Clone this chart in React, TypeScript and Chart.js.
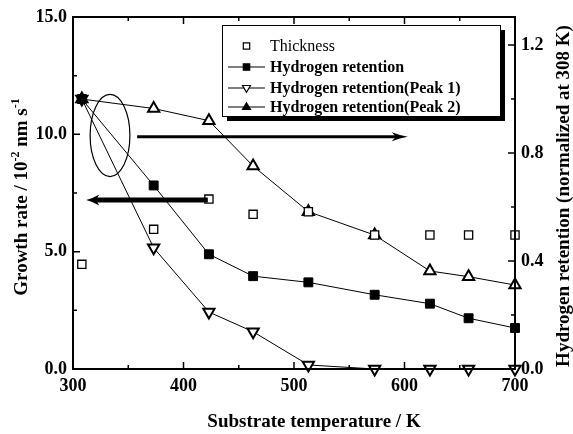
import { useEffect, useRef } from "react";
import { Chart, registerables } from "chart.js";
Chart.register(...registerables);

// ---- data ----
const temperatures = [308, 373, 423, 463, 513, 573, 623, 658, 700];
const thickness = [4.46, 5.95, 7.24, 6.59, 6.7, 5.71, 5.71, 5.71, 5.71];
const hRetention = [1.0, 0.68, 0.425, 0.344, 0.321, 0.275, 0.242, 0.188, 0.152];
const hPeak1 = [1.0, 0.449, 0.211, 0.138, 0.015, 0, 0, 0, 0];
const hPeak2 = [1.0, 0.965, 0.92, 0.752, 0.583, 0.496, 0.363, 0.342, 0.311];
const seriesLabels = [
  "Thickness",
  "Hydrogen retention",
  "Hydrogen retention(Peak 1)",
  "Hydrogen retention(Peak 2)",
];
const xTicks = [300, 350, 400, 450, 500, 550, 600, 650, 700];
const xMajor = [300, 400, 500, 600, 700];
const leftTicks = [0, 2.5, 5, 7.5, 10, 12.5, 15];
const leftMajor = [0, 5, 10, 15];
const rightTicks = [0, 0.2, 0.4, 0.6, 0.8, 1.0, 1.2];
const rightMajor = [0, 0.4, 0.8, 1.2];
const xTitle = "Substrate temperature / K";
const rightTitle = "Hydrogen retention (normalized at 308 K)";
// annotations (data units: x in K, y on left axis)
const leftArrow = [422, 7.2, 312, 7.2];
const rightArrow = [358, 9.9, 603, 9.9];
const ellipseCenter = [333.5, 9.95];
const ellipseRadii = [18, 1.75];

const FONT = "'Liberation Serif', 'Times New Roman', serif";

function marker(ctx: CanvasRenderingContext2D, style: string, x: number, y: number, r: number, fill: string) {
  ctx.save();
  ctx.beginPath();
  if (style === "rect") {
    const s = r;
    ctx.rect(x - s, y - s, 2 * s, 2 * s);
  } else {
    const dir = style === "down" ? -1 : 1;
    ctx.moveTo(x, y - dir * r);
    ctx.lineTo(x + r * 0.95, y + dir * r * 0.6);
    ctx.lineTo(x - r * 0.95, y + dir * r * 0.6);
    ctx.closePath();
  }
  ctx.fillStyle = fill;
  ctx.fill();
  ctx.lineWidth = 1.2;
  ctx.strokeStyle = "#000";
  ctx.stroke();
  ctx.restore();
}

function arrow(ctx: CanvasRenderingContext2D, x0: number, y0: number, x1: number, y1: number, w: number, hl: number, hw: number) {
  const dir = Math.sign(x1 - x0);
  ctx.save();
  ctx.strokeStyle = "#000";
  ctx.fillStyle = "#000";
  ctx.lineWidth = w;
  ctx.beginPath();
  ctx.moveTo(x0, y0);
  ctx.lineTo(x1 - dir * hl * 0.6, y1);
  ctx.stroke();
  ctx.beginPath();
  ctx.moveTo(x1, y1);
  ctx.quadraticCurveTo(x1 - dir * hl * 0.5, y1 - hw * 0.3, x1 - dir * hl, y1 - hw);
  ctx.lineTo(x1 - dir * hl * 0.75, y1);
  ctx.lineTo(x1 - dir * hl, y1 + hw);
  ctx.quadraticCurveTo(x1 - dir * hl * 0.5, y1 + hw * 0.3, x1, y1);
  ctx.fill();
  ctx.restore();
}

const decorPlugin = {
  id: "decor",
  afterDatasetsDraw(chart: any) {
    const ctx: CanvasRenderingContext2D = chart.ctx;
    const a = chart.chartArea;
    const sx = chart.scales.x;
    const sl = chart.scales.yL;
    const sr = chart.scales.yR;

    // annotations
    ctx.save();
    ctx.strokeStyle = "#000";
    ctx.lineWidth = 1.2;
    const cx = sx.getPixelForValue(ellipseCenter[0]);
    const cy = sl.getPixelForValue(ellipseCenter[1]);
    const rx = sx.getPixelForValue(ellipseCenter[0] + ellipseRadii[0]) - cx;
    const ry = cy - sl.getPixelForValue(ellipseCenter[1] + ellipseRadii[1]);
    ctx.beginPath();
    ctx.ellipse(cx, cy, rx, ry, 0, 0, Math.PI * 2);
    ctx.stroke();
    ctx.restore();
    arrow(ctx, sx.getPixelForValue(leftArrow[0]), sl.getPixelForValue(leftArrow[1]),
      sx.getPixelForValue(leftArrow[2]), sl.getPixelForValue(leftArrow[3]), 5, 13, 5.5);
    arrow(ctx, sx.getPixelForValue(rightArrow[0]), sl.getPixelForValue(rightArrow[1]),
      sx.getPixelForValue(rightArrow[2]), sl.getPixelForValue(rightArrow[3]), 3, 16, 4.5);

    // frame
    ctx.save();
    ctx.strokeStyle = "#000";
    ctx.lineWidth = 2;
    ctx.strokeRect(a.left, a.top, a.right - a.left, a.bottom - a.top);
    ctx.lineWidth = 1.5;
    ctx.beginPath();
    xTicks.forEach((v) => {
      const p = sx.getPixelForValue(v);
      const len = xMajor.includes(v) ? 7 : 4;
      ctx.moveTo(p, a.bottom);
      ctx.lineTo(p, a.bottom - len);
      ctx.moveTo(p, a.top);
      ctx.lineTo(p, a.top + len);
    });
    leftTicks.forEach((v) => {
      const p = sl.getPixelForValue(v);
      const len = leftMajor.includes(v) ? 7 : 4;
      ctx.moveTo(a.left, p);
      ctx.lineTo(a.left + len, p);
    });
    rightTicks.forEach((v) => {
      const p = sr.getPixelForValue(v);
      const len = rightMajor.includes(v) ? 7 : 4;
      ctx.moveTo(a.right, p);
      ctx.lineTo(a.right - len, p);
    });
    ctx.stroke();
    ctx.restore();

    // legend
    ctx.save();
    const lx = 222, ly = 25, lw = 278, lh = 91;
    ctx.fillStyle = "#000";
    ctx.fillRect(lx + 5, ly + 5, lw, lh);
    ctx.fillStyle = "#fff";
    ctx.fillRect(lx, ly, lw, lh);
    ctx.strokeStyle = "#000";
    ctx.lineWidth = 1;
    ctx.strokeRect(lx + 0.5, ly + 0.5, lw, lh);
    const rows = [46, 67, 88, 107];
    const styles = ["rect", "rect", "down", "up"];
    const fills = ["#fff", "#000", "#fff", "#000"];
    rows.forEach((yy, i) => {
      if (i > 0) {
        ctx.beginPath();
        ctx.lineWidth = 1.2;
        ctx.moveTo(228, yy);
        ctx.lineTo(265, yy);
        ctx.stroke();
      }
      marker(ctx, styles[i], 246.5, yy, styles[i] === "rect" ? 3.2 : 4.2, fills[i]);
      ctx.fillStyle = "#000";
      ctx.font = (i === 0 ? "" : "bold ") + "16px " + FONT;
      ctx.textBaseline = "middle";
      ctx.textAlign = "left";
      ctx.fillText(seriesLabels[i], 270, yy + 1);
    });
    ctx.restore();

    // axis titles
    ctx.save();
    ctx.fillStyle = "#000";
    ctx.textBaseline = "middle";
    // bottom
    ctx.font = "bold 19px " + FONT;
    ctx.textAlign = "center";
    ctx.fillText(xTitle, 314, 422);
    // right
    ctx.save();
    ctx.translate(564, 196);
    ctx.rotate(-Math.PI / 2);
    ctx.fillText(rightTitle, 0, 0);
    ctx.restore();
    // left with superscripts
    ctx.save();
    ctx.translate(22, 197);
    ctx.rotate(-Math.PI / 2);
    const parts: [string, boolean][] = [
      ["Growth rate / 10", false],
      ["-2", true],
      [" nm s", false],
      ["-1", true],
    ];
    const big = "bold 19px " + FONT;
    const small = "bold 12px " + FONT;
    let total = 0;
    parts.forEach(([t, sup]) => {
      ctx.font = sup ? small : big;
      total += ctx.measureText(t).width;
    });
    let x = -total / 2;
    ctx.textAlign = "left";
    parts.forEach(([t, sup]) => {
      ctx.font = sup ? small : big;
      ctx.fillText(t, x, sup ? -6 : 0);
      x += ctx.measureText(t).width;
    });
    ctx.restore();
    ctx.restore();
  },
};

export default function App() {
  const ref = useRef<HTMLCanvasElement>(null);
  useEffect(() => {
    document.body.style.margin = "0";
    const canvas = ref.current!;
    const tickFont = { family: FONT, size: 18, weight: "bold" as const };
    const mk = (vals: number[]) => temperatures.map((t, i) => ({ x: t, y: vals[i] }));
    const chart = new Chart(canvas, {
      type: "scatter",
      data: {
        datasets: [
          {
            label: seriesLabels[0],
            data: mk(thickness),
            yAxisID: "yL",
            showLine: false,
            pointStyle: "rect",
            pointRadius: 5.8,
            pointBackgroundColor: "#fff",
            pointBorderColor: "#000",
            pointBorderWidth: 1.3,
            clip: false,
          },
          {
            label: seriesLabels[1],
            data: mk(hRetention),
            yAxisID: "yR",
            showLine: true,
            borderColor: "#000",
            borderWidth: 1,
            pointStyle: "rect",
            pointRadius: 6.3,
            pointBackgroundColor: "#000",
            pointBorderColor: "#000",
            pointBorderWidth: 1,
            clip: false,
          },
          {
            label: seriesLabels[2],
            data: mk(hPeak1),
            yAxisID: "yR",
            showLine: true,
            borderColor: "#000",
            borderWidth: 1,
            pointStyle: "triangle",
            pointRotation: 180,
            pointRadius: 6.5,
            pointBackgroundColor: "#fff",
            pointBorderColor: "#000",
            pointBorderWidth: 2,
            clip: false,
          },
          {
            label: seriesLabels[3],
            data: mk(hPeak2),
            yAxisID: "yR",
            showLine: true,
            borderColor: "#000",
            borderWidth: 1,
            pointStyle: "triangle",
            pointRadius: 6.5,
            pointBackgroundColor: "#fff",
            pointBorderColor: "#000",
            pointBorderWidth: 2,
            clip: false,
          },
        ],
      },
      options: {
        animation: false,
        responsive: false,
        layout: { padding: { top: 17, left: 0, right: 0, bottom: 0 } },
        plugins: { legend: { display: false }, tooltip: { enabled: false } },
        scales: {
          x: {
            type: "linear",
            min: 300,
            max: 700,
            afterBuildTicks: (s: any) => { s.ticks = xTicks.map((v) => ({ value: v })); },
            afterFit: (s: any) => { s.height = 65; },
            grid: { display: false, drawTicks: false },
            border: { display: false },
            ticks: {
              font: tickFont,
              color: "#000",
              padding: 7,
              maxRotation: 0,
              autoSkip: false,
              callback: (v: any) => (xMajor.includes(Number(v)) ? String(v) : ""),
            },
          },
          yL: {
            type: "linear",
            position: "left",
            min: 0,
            max: 15,
            afterBuildTicks: (s: any) => { s.ticks = leftTicks.map((v) => ({ value: v })); },
            afterFit: (s: any) => { s.width = 73; },
            grid: { display: false, drawTicks: false },
            border: { display: false },
            ticks: {
              font: tickFont,
              color: "#000",
              padding: 6,
              autoSkip: false,
              callback: (v: any) => (leftMajor.includes(Number(v)) ? Number(v).toFixed(1) : ""),
            },
          },
          yR: {
            type: "linear",
            position: "right",
            min: 0,
            max: 1.304,
            afterBuildTicks: (s: any) => { s.ticks = rightTicks.map((v) => ({ value: v })); },
            afterFit: (s: any) => { s.width = 58; },
            grid: { display: false, drawTicks: false },
            border: { display: false },
            ticks: {
              font: tickFont,
              color: "#000",
              padding: 6,
              autoSkip: false,
              callback: (v: any) => (rightMajor.some((m) => Math.abs(m - Number(v)) < 1e-6) ? Number(v).toFixed(1) : ""),
            },
          },
        },
      },
      plugins: [decorPlugin],
    });
    return () => chart.destroy();
  }, []);
  return (
    <div style={{ width: 573, height: 434, position: "relative" }}>
      <canvas ref={ref} width={573} height={434} />
    </div>
  );
}
